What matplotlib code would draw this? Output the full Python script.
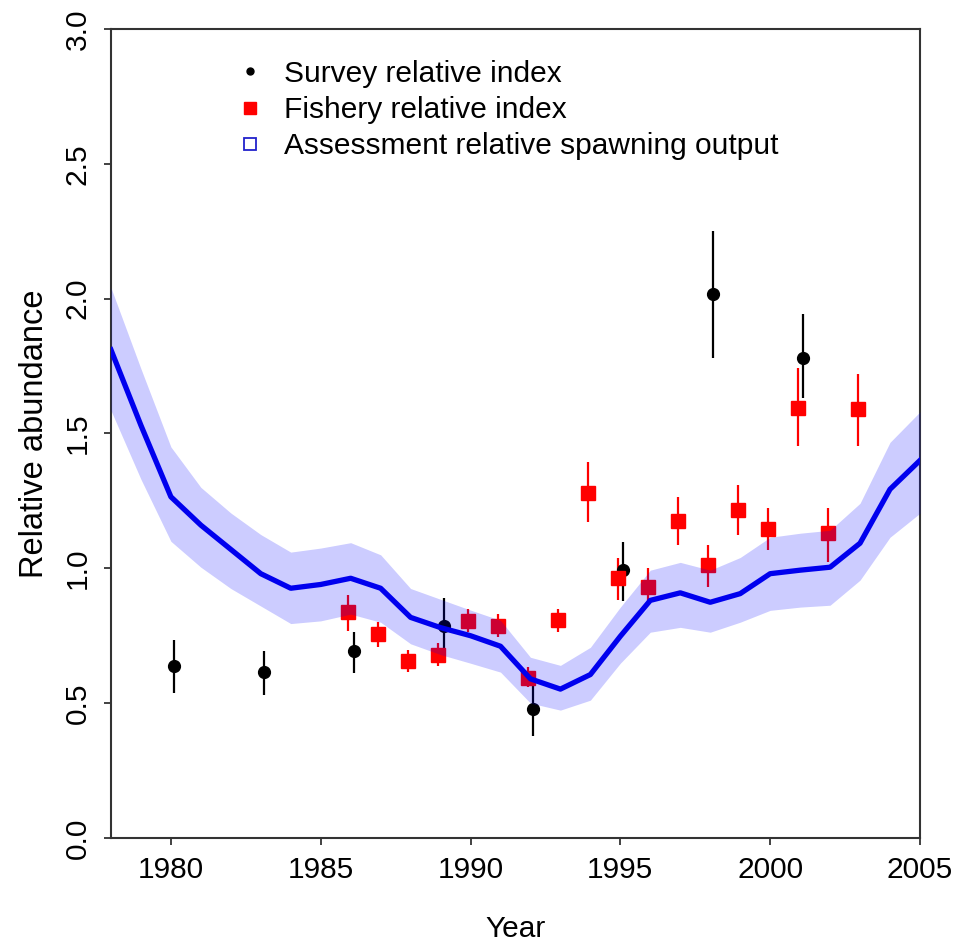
import numpy as np
import matplotlib
matplotlib.use("Agg")
import matplotlib.pyplot as plt
from matplotlib.lines import Line2D

plt.rcParams['font.family'] = ['Liberation Sans', 'DejaVu Sans']

# assessment relative spawning output, with its interval
model_years = [1978, 1979, 1980, 1981, 1982, 1983, 1984, 1985, 1986, 1987,
               1988, 1989, 1990, 1991, 1992, 1993, 1994, 1995, 1996, 1997,
               1998, 1999, 2000, 2001, 2002, 2003, 2004, 2005]
ssb = [1.81, 1.53, 1.265, 1.16, 1.07, 0.98, 0.926, 0.94, 0.963, 0.926,
       0.818, 0.78, 0.75, 0.711, 0.59, 0.552, 0.606, 0.748, 0.881, 0.909,
       0.874, 0.906, 0.98, 0.993, 1.004, 1.093, 1.293, 1.40]
ssb_hi = [2.04, 1.74, 1.45, 1.30, 1.205, 1.125, 1.06, 1.075, 1.095, 1.05,
          0.925, 0.885, 0.845, 0.807, 0.67, 0.64, 0.707, 0.856, 0.993, 1.022,
          0.993, 1.04, 1.115, 1.13, 1.141, 1.241, 1.467, 1.58]
ssb_lo = [1.585, 1.33, 1.10, 1.004, 0.925, 0.86, 0.795, 0.805, 0.83, 0.80,
          0.72, 0.68, 0.648, 0.615, 0.50, 0.474, 0.511, 0.648, 0.763, 0.781,
          0.763, 0.80, 0.844, 0.856, 0.863, 0.956, 1.115, 1.204]

# survey index
survey_years = [1980, 1983, 1986, 1989, 1992, 1995, 1998, 2001]
survey = [0.637, 0.615, 0.693, 0.787, 0.478, 0.993, 2.018, 1.78]
survey_lo = [0.537, 0.53, 0.61, 0.70, 0.38, 0.88, 1.78, 1.63]
survey_hi = [0.733, 0.693, 0.763, 0.889, 0.59, 1.096, 2.252, 1.944]

# fishery index
fishery_years = [1986, 1987, 1988, 1989, 1990, 1991, 1992, 1993, 1994,
                 1995, 1996, 1997, 1998, 1999, 2000, 2001, 2002, 2003]
fishery = [0.837, 0.756, 0.656, 0.678, 0.804, 0.785, 0.593, 0.807, 1.281,
           0.963, 0.93, 1.174, 1.011, 1.215, 1.144, 1.596, 1.13, 1.589]
fishery_lo = [0.767, 0.71, 0.615, 0.637, 0.763, 0.744, 0.56, 0.763, 1.17,
              0.881, 0.87, 1.085, 0.93, 1.122, 1.067, 1.452, 1.022, 1.452]
fishery_hi = [0.90, 0.80, 0.696, 0.722, 0.85, 0.83, 0.633, 0.85, 1.393,
              1.037, 1.0, 1.263, 1.085, 1.307, 1.222, 1.744, 1.222, 1.722]

fs = 21.5
fig = plt.figure(figsize=(9.6, 9.44), dpi=100)
ax = fig.add_axes([0.1156, 0.1123, 0.8427, 0.8571])

# small dodge so the two indices don't sit on each other
sx = np.array(survey_years) + 0.1
fx = np.array(fishery_years) - 0.08

ax.vlines(sx, survey_lo, survey_hi, color='black', lw=1.6, zorder=2)
ax.plot(sx, survey, 'o', color='black', ms=8.5, zorder=3)
ax.vlines(fx, fishery_lo, fishery_hi, color='red', lw=1.6, zorder=2)
ax.plot(fx, fishery, 's', color='red', ms=10, zorder=3)

ax.fill_between(model_years, ssb_lo, ssb_hi, color=(0, 0, 1, 0.2), lw=0, zorder=4)
ax.plot(model_years, ssb, color='#0000ee', lw=3.8, zorder=5)

ax.set_xlim(1978, 2005)
ax.set_ylim(0, 3.0)
ax.set_xticks([1980, 1985, 1990, 1995, 2000, 2005])
ax.set_yticks([0.0, 0.5, 1.0, 1.5, 2.0, 2.5, 3.0])
ax.set_yticklabels(['0.0', '0.5', '1.0', '1.5', '2.0', '2.5', '3.0'])
ax.tick_params(axis='both', direction='out', length=5, width=1.3,
               color='#333333', labelsize=fs)
ax.tick_params(axis='x', pad=8)
ax.tick_params(axis='y', pad=9)
plt.setp(ax.get_yticklabels(), rotation=90, va='center')
for s in ax.spines.values():
    s.set_color('#333333')
    s.set_linewidth(1.5)

ax.set_xlabel('Year', fontsize=fs, labelpad=22)
ax.set_ylabel('Relative abundance', fontsize=23.5, labelpad=10)

handles = [
    Line2D([], [], ls='none', marker='o', color='black', ms=5),
    Line2D([], [], ls='none', marker='s', color='red', ms=9),
    Line2D([], [], ls='none', marker='s', mfc='none', mec='#2222cc', mew=1.3, ms=9),
]
labels = ['Survey relative index', 'Fishery relative index',
          'Assessment relative spawning output']
ax.legend(handles, labels, loc='upper left', bbox_to_anchor=(0.153, 0.962),
          frameon=False, fontsize=fs, handlelength=1.0, handletextpad=0.64,
          labelspacing=0.28, borderpad=0, borderaxespad=0)

fig.savefig('out.png', dpi=100)
